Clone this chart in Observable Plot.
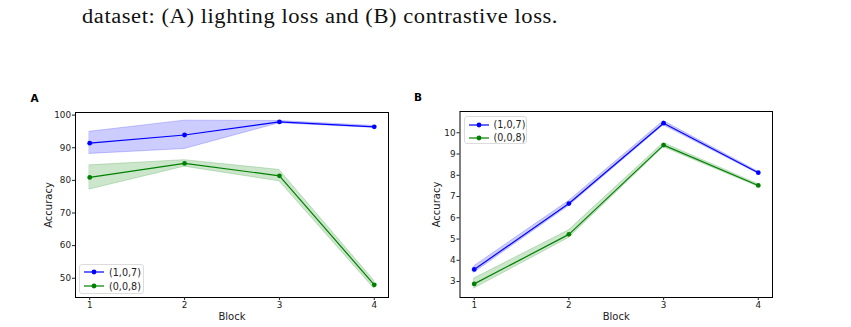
<!DOCTYPE html>
<html>
<head>
<meta charset="utf-8">
<script src="https://cdn.jsdelivr.net/npm/d3@7"></script>
<script src="https://cdn.jsdelivr.net/npm/@observablehq/plot@0.6"></script>
<style>
  html, body { margin: 0; padding: 0; background: #fff; }
  #wrap { position: relative; width: 851px; height: 327px; overflow: hidden; }
  #caption { position: absolute; left: 82px; top: 4px; font-family: "Liberation Serif", "DejaVu Serif", serif; font-size: 20px; line-height: 24px; letter-spacing: 0.5px; color: #111; white-space: nowrap; transform-origin: 0 0; }
  .panel { position: absolute; top: 0; }
  .legend { position: absolute; background: rgba(255,255,255,0.8); border: 1px solid #dcdcdc; border-radius: 3px; font-family: "DejaVu Sans", sans-serif; font-size: 9.6px; color: #222; box-sizing: border-box; }
  .legend .row { position: absolute; left: 0; height: 12px; display: flex; align-items: center; }
  .legend svg { display: block; }
</style>
</head>
<body>
<div id="wrap">
  <div id="caption">dataset: (A) lighting loss and (B) contrastive loss.</div>
</div>
<script>
// Blocks on the x axis
const blocks = [1, 2, 3, 4];
const seriesNames = ["(1,0,7)", "(0,0,8)"];
const seriesColors = ["#0000ff", "#008000"];

// Panel A: lighting loss — mean accuracy and band limits
const lightMean107 = [91.4, 93.9, 97.9, 96.4];
const lightLow107  = [88.1, 89.6, 97.5, 96.1];
const lightHigh107 = [94.9, 98.3, 98.2, 96.7];
const lightMean008 = [80.9, 85.2, 81.4, 48.0];
const lightLow008  = [77.2, 84.2, 79.7, 46.8];
const lightHigh008 = [84.6, 86.2, 83.2, 49.2];
const lightTicks = [50, 60, 70, 80, 90, 100];

// Panel B: contrastive loss — mean accuracy and band limits
const contrMean107 = [3.57, 6.67, 10.45, 8.12];
const contrLow107  = [3.42, 6.55, 10.35, 8.07];
const contrHigh107 = [3.72, 6.79, 10.55, 8.17];
const contrMean008 = [2.89, 5.22, 9.42, 7.52];
const contrLow008  = [2.67, 5.05, 9.32, 7.46];
const contrHigh008 = [3.14, 5.41, 9.52, 7.58];
const contrTicks = [3, 4, 5, 6, 7, 8, 9, 10];

// Stretch the caption line to its typeset width
const caption = document.getElementById("caption");
const capWidth = caption.getBoundingClientRect().width;
caption.style.transform = `scaleX(${476 / capWidth})`;

function rows(mean, low, high) {
  return blocks.map((b, i) => ({block: b, mean: mean[i], low: low[i], high: high[i]}));
}

function panel({series, yDomain, yTicks, letter, letterDx, left, width, margins, labelDx, legendPos}) {
  const marks = [];
  series.forEach((s, k) => {
    const c = seriesColors[k];
    marks.push(Plot.areaY(s, {x: "block", y1: "low", y2: "high", fill: c, fillOpacity: 0.2, stroke: c, strokeOpacity: 0.2, strokeWidth: 1}));
  });
  series.forEach((s, k) => {
    const c = seriesColors[k];
    marks.push(Plot.line(s, {x: "block", y: "mean", stroke: c, strokeWidth: 1.2}));
    marks.push(Plot.dot(s, {x: "block", y: "mean", fill: c, r: 2.4}));
  });
  marks.push(
    Plot.frame({stroke: "#000", strokeWidth: 1}),
    Plot.axisX({ticks: blocks, tickSize: 3, tickPadding: 1.5, tickFormat: d => String(d), label: null, fontSize: 8.8}),
    Plot.axisY({ticks: yTicks, tickSize: 3, tickPadding: 1.5, tickFormat: d => String(d), label: null, fontSize: 8.8}),
    Plot.text(["Block"], {frameAnchor: "bottom", dy: 19, text: d => d, fontSize: 10, lineAnchor: "middle", fill: "#222"}),
    Plot.text(["Accuracy"], {frameAnchor: "left", dx: labelDx, rotate: -90, text: d => d, fontSize: 10, lineAnchor: "middle", textAnchor: "middle", fill: "#222"}),
    Plot.text([letter], {frameAnchor: "top-left", dx: letterDx, dy: -13.5, text: d => d, fontSize: 10.5, fontWeight: "bold", lineAnchor: "middle", textAnchor: "start", fill: "#000"})
  );
  const chart = Plot.plot({
    width, height: 327,
    marginLeft: margins[0], marginRight: margins[1], marginTop: margins[2], marginBottom: margins[3],
    x: {domain: [0.85, 4.15]},
    y: {domain: yDomain},
    style: {fontFamily: "DejaVu Sans, sans-serif", color: "#222", background: "transparent", overflow: "visible"},
    marks
  });
  chart.classList.add("panel");
  chart.style.left = left + "px";
  document.getElementById("wrap").appendChild(chart);

  // Legend box with line-and-marker swatches
  const lg = document.createElement("div");
  lg.className = "legend";
  Object.assign(lg.style, {left: legendPos.left + "px", top: legendPos.top + "px", width: legendPos.w + "px", height: legendPos.h + "px"});
  seriesNames.forEach((name, k) => {
    const row = document.createElement("div");
    row.className = "row";
    row.style.top = (legendPos.rowTop + k * legendPos.rowGap - 6) + "px";
    row.innerHTML = `<svg width="26" height="12" style="margin-left:3px"><line x1="1" x2="21" y1="6" y2="6" stroke="${seriesColors[k]}" stroke-width="1.2"/><circle cx="11" cy="6" r="2.4" fill="${seriesColors[k]}"/></svg><span>${name}</span>`;
    lg.appendChild(row);
  });
  document.getElementById("wrap").appendChild(lg);
}

panel({
  series: [rows(lightMean107, lightLow107, lightHigh107), rows(lightMean008, lightLow008, lightHigh008)],
  yDomain: [44.1, 100.8], yTicks: lightTicks, letter: "A", letterDx: -45,
  left: 0, width: 420, margins: [75, 32, 112, 30], labelDx: -27,
  legendPos: {left: 79, top: 264, w: 65, h: 30, rowTop: 7, rowGap: 14}
});
panel({
  series: [rows(contrMean107, contrLow107, contrHigh107), rows(contrMean008, contrLow008, contrHigh008)],
  yDomain: [2.25, 11.0], yTicks: contrTicks, letter: "B", letterDx: -46,
  left: 420, width: 431, margins: [39.5, 79, 111, 30], labelDx: -23,
  legendPos: {left: 463.5, top: 116, w: 63, h: 28, rowTop: 7.5, rowGap: 13}
});
</script>
</body>
</html>
